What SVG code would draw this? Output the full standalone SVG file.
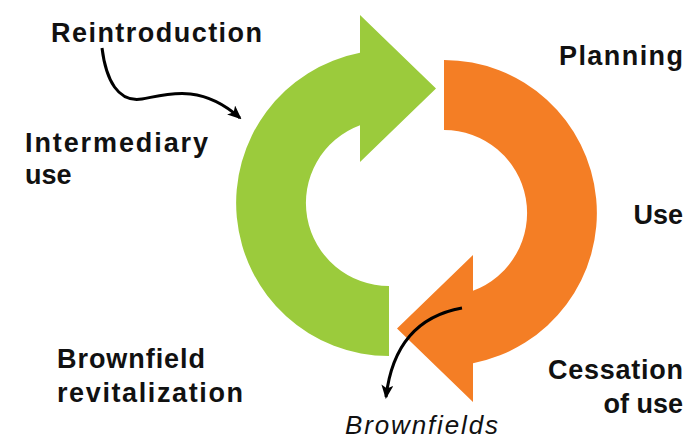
<svg xmlns="http://www.w3.org/2000/svg" width="686" height="440" viewBox="0 0 686 440">
  <defs>
    <marker id="ah" viewBox="0 0 14 12" refX="12" refY="6" markerWidth="14" markerHeight="12" markerUnits="userSpaceOnUse" orient="auto">
      <path d="M0,0 L14,6 L0,12 L3.5,6 Z" fill="#000"/>
    </marker>
    <style>
      .lbl { font-family: "Liberation Sans", Arial, sans-serif; font-weight: bold; font-size: 27px; fill: #111; }
      .it { font-family: "Liberation Sans", Arial, sans-serif; font-style: italic; font-size: 26px; fill: #111; }
      .con { fill: none; stroke: #000; stroke-width: 3; marker-end: url(#ah); }
    </style>
  </defs>
  <rect width="686" height="440" fill="#fff"/>
  <g id="green-arrow">
    <path d="M389,356 A153,153 0 0 1 360,52.8 L360,15 L436,88.5 L360,162 L360,125.2 A83,83 0 0 0 389,286 Z" fill="#9BCB3C"/>
  </g>
  <g id="orange-arrow">
    <path d="M444,60 A153,153 0 0 1 473,363.2 L473,402 L397,328.5 L473,255 L473,290.8 A83,83 0 0 0 444,130 Z" fill="#F47E25"/>
  </g>
  <g id="connectors">
    <path class="con" d="M102,48 C106,80 118,103 142,99 C165,95 200,82 240,118"/>
    <path class="con" d="M462,308 Q395,320 386,397"/>
  </g>
  <g id="reintroduction"><text class="lbl" x="51" y="42" textLength="211" lengthAdjust="spacing">Reintroduction</text></g>
  <g id="planning"><text class="lbl" x="683" y="65" text-anchor="end" textLength="124" lengthAdjust="spacing">Planning</text></g>
  <g id="intermediary-use"><text class="lbl" x="25" y="152" textLength="183" lengthAdjust="spacing">Intermediary</text><text class="lbl" x="25" y="184">use</text></g>
  <g id="use"><text class="lbl" x="683" y="224" text-anchor="end">Use</text></g>
  <g id="brownfield-revitalization"><text class="lbl" x="57" y="368" textLength="148" lengthAdjust="spacing">Brownfield</text><text class="lbl" x="57" y="402" textLength="186" lengthAdjust="spacing">revitalization</text></g>
  <g id="cessation-of-use"><text class="lbl" x="683" y="379" text-anchor="end" textLength="135" lengthAdjust="spacing">Cessation</text><text class="lbl" x="683" y="413" text-anchor="end">of use</text></g>
  <g id="brownfields"><text class="it" x="345" y="434" textLength="153" lengthAdjust="spacing">Brownfields</text></g>
</svg>
